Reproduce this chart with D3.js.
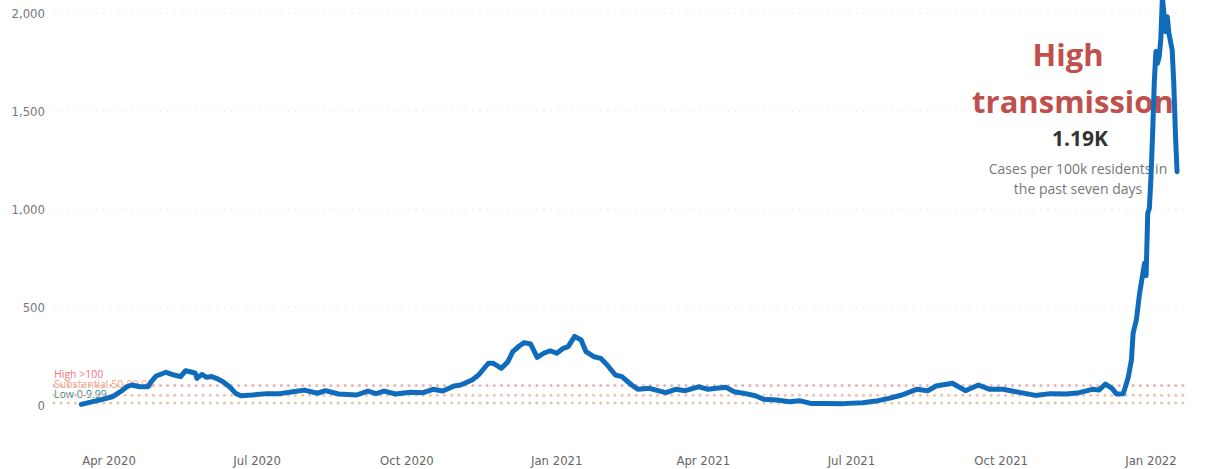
<!DOCTYPE html>
<html>
<head>
<meta charset="utf-8">
<script src="https://cdn.jsdelivr.net/npm/d3@7"></script>
<style>
  body { margin: 0; background: #fff; }
  svg { display: block; }
</style>
</head>
<body>
<div id="chart"></div>
<script>
// cases per 100k residents, past seven days
const dates = [
  "2020-03-15","2020-03-22","2020-03-28","2020-04-03","2020-04-08","2020-04-12","2020-04-15","2020-04-20",
  "2020-04-25","2020-04-27","2020-04-30","2020-05-06","2020-05-11","2020-05-15","2020-05-18","2020-05-22",
  "2020-05-24","2020-05-25","2020-05-28","2020-05-31","2020-06-03","2020-06-06","2020-06-10","2020-06-14",
  "2020-06-18","2020-06-21","2020-06-28","2020-07-07","2020-07-15","2020-07-23","2020-07-30","2020-08-07",
  "2020-08-12","2020-08-20","2020-08-31","2020-09-07","2020-09-12","2020-09-17","2020-09-24","2020-10-03",
  "2020-10-11","2020-10-17","2020-10-23","2020-10-30","2020-11-03","2020-11-10","2020-11-14","2020-11-20",
  "2020-11-23","2020-11-28","2020-12-02","2020-12-05","2020-12-09","2020-12-12","2020-12-16","2020-12-20",
  "2020-12-24","2020-12-28","2021-01-01","2021-01-05","2021-01-08","2021-01-12","2021-01-16","2021-01-19",
  "2021-01-24","2021-01-28","2021-02-01","2021-02-06","2021-02-10","2021-02-16","2021-02-20","2021-02-27",
  "2021-03-03","2021-03-09","2021-03-15","2021-03-21","2021-03-29","2021-04-04","2021-04-09","2021-04-15",
  "2021-04-20","2021-04-27","2021-05-03","2021-05-08","2021-05-16","2021-05-24","2021-05-30","2021-06-06",
  "2021-06-15","2021-06-26","2021-07-08","2021-07-16","2021-07-24","2021-08-01","2021-08-10","2021-08-17",
  "2021-08-22","2021-09-01","2021-09-09","2021-09-17","2021-09-24","2021-10-02","2021-10-10","2021-10-22",
  "2021-10-31","2021-11-10","2021-11-18","2021-11-26","2021-11-30","2021-12-04","2021-12-08","2021-12-11",
  "2021-12-15","2021-12-18","2021-12-20","2021-12-21","2021-12-23","2021-12-25","2021-12-27","2021-12-28",
  "2021-12-29","2021-12-30","2021-12-31","2022-01-01","2022-01-02","2022-01-03","2022-01-04","2022-01-05",
  "2022-01-06","2022-01-07","2022-01-08","2022-01-10","2022-01-11","2022-01-12","2022-01-14","2022-01-15",
  "2022-01-16","2022-01-17"
];
const cases = [
  3, 17, 29, 42, 68, 93, 102, 93,
  93, 119, 148, 167, 153, 145, 175, 167,
  162, 136, 156, 141, 145, 136, 119, 93,
  58, 47, 51, 58, 58, 68, 76, 60,
  73, 56, 51, 71, 58, 71, 56, 65,
  63, 80, 71, 97, 102, 128, 153, 213,
  213, 187, 221, 272, 301, 318, 311, 243,
  264, 277, 264, 289, 298, 350, 332, 272,
  246, 238, 204, 153, 145, 102, 80, 85,
  76, 63, 80, 73, 93, 80, 85, 90,
  68, 58, 47, 29, 26, 17, 22, 8,
  8, 7, 12, 20, 34, 51, 80, 73,
  97, 111, 73, 102, 80, 80, 68, 49,
  58, 56, 63, 80, 76, 107, 85, 56,
  58, 140, 230, 366, 434, 570, 672, 723,
  660, 978, 1003, 1165, 1386, 1641, 1803, 1743,
  1777, 1862, 2080, 1905, 1981, 1896, 1811, 1641,
  1386, 1190
];

const yTicks = [0, 500, 1000, 1500, 2000];
const xTicks = ["2020-04-01","2020-07-01","2020-10-01","2021-01-01","2021-04-01","2021-07-01","2021-10-01","2022-01-01"];

// threshold levels
const levelNames = ["High >100", "Substantial 50-99.99", "Low 0-9.99"];
const levelValues = [100, 50, 10];
const levelLine = ["#eab4b4", "#efc0b4", "#d4cfa8"];
const levelText = ["#f4757f", "#f7a07c", "#2e8a80"];

const annoTitle = ["High", "transmission"];
const annoValue = "1.19K";
const annoNote = ["Cases per 100k residents in", "the past seven days"];

const parse = d3.timeParse("%Y-%m-%d");
const fmt = d3.timeFormat("%b %Y");

let data = dates.map((d, i) => ({ date: parse(d), value: cases[i] }));

const width = 1206, height = 469;
const left = 54, right = 1188;

const svg = d3.select("#chart")
  .append("svg")
  .attr("width", width)
  .attr("height", height);

let x = d3.scaleTime()
  .domain([parse("2020-04-01"), parse("2022-01-01")])
  .range([109, 1151]);

let y = d3.scaleLinear()
  .domain([0, 2000])
  .range([405, 13]);

const axisFont = "'DejaVu Sans Condensed', 'Liberation Sans Narrow', 'Roboto', sans-serif";
const textFont = "'Segoe UI', 'Open Sans', 'Noto Sans', sans-serif";

// gridlines
yTicks.filter(t => t > 0).forEach(t =>
  svg.append("line")
    .attr("x1", left)
    .attr("x2", right)
    .attr("y1", y(t))
    .attr("y2", y(t))
    .attr("stroke", "#d9d9d9")
    .attr("stroke-width", 1.2)
    .attr("stroke-linecap", "round")
    .attr("stroke-dasharray", "0.1 7")
);

// y labels
yTicks.forEach(t =>
  svg.append("text")
    .attr("x", 45)
    .attr("y", y(t))
    .attr("dy", "0.35em")
    .attr("text-anchor", "end")
    .attr("font-family", axisFont)
    .attr("font-size", 13)
    .attr("fill", "#777")
    .text(d3.format(",")(t))
);

// x labels
xTicks.forEach(t =>
  svg.append("text")
    .attr("x", x(parse(t)))
    .attr("y", 465)
    .attr("text-anchor", "middle")
    .attr("font-family", axisFont)
    .attr("font-size", 13)
    .attr("fill", "#666")
    .text(fmt(parse(t)))
);

// threshold labels, then the dotted lines over them
for (let i = 0; i < levelValues.length; i++) {
  svg.append("text")
    .attr("x", left)
    .attr("y", 377.5 + i * 10)
    .attr("font-family", textFont)
    .attr("font-size", 10.5)
    .attr("fill", levelText[i])
    .text(levelNames[i]);
}
for (let i = 0; i < levelValues.length; i++) {
  svg.append("line")
    .attr("x1", left)
    .attr("x2", right)
    .attr("y1", y(levelValues[i]))
    .attr("y2", y(levelValues[i]))
    .attr("stroke", levelLine[i])
    .attr("stroke-width", 3)
    .attr("stroke-linecap", "round")
    .attr("stroke-dasharray", "0.1 7");
}

// annotation
svg.append("text")
  .attr("x", 1068).attr("y", 66)
  .attr("text-anchor", "middle")
  .attr("font-family", textFont)
  .attr("font-weight", 700)
  .attr("font-size", 31)
  .attr("fill", "#c0504d")
  .text(annoTitle[0]);
svg.append("text")
  .attr("x", 1073).attr("y", 113)
  .attr("text-anchor", "middle")
  .attr("font-family", textFont)
  .attr("font-weight", 700)
  .attr("font-size", 31)
  .attr("fill", "#c0504d")
  .text(annoTitle[1]);
svg.append("text")
  .attr("x", 1080).attr("y", 146)
  .attr("text-anchor", "middle")
  .attr("font-family", textFont)
  .attr("font-weight", 700)
  .attr("font-size", 21)
  .attr("fill", "#333")
  .text(annoValue);
annoNote.forEach((t, i) =>
  svg.append("text")
    .attr("x", 1078).attr("y", 174 + i * 20)
    .attr("text-anchor", "middle")
    .attr("font-family", textFont)
    .attr("font-size", 14)
    .attr("fill", "#777")
    .text(t)
);

// the line
let line = d3.line()
  .x(d => x(d.date))
  .y(d => y(d.value));

svg.append("path")
  .datum(data)
  .attr("d", line)
  .attr("fill", "none")
  .attr("stroke", "#0f6cbd")
  .attr("stroke-width", 5)
  .attr("stroke-linejoin", "round")
  .attr("stroke-linecap", "round");
</script>
</body>
</html>
